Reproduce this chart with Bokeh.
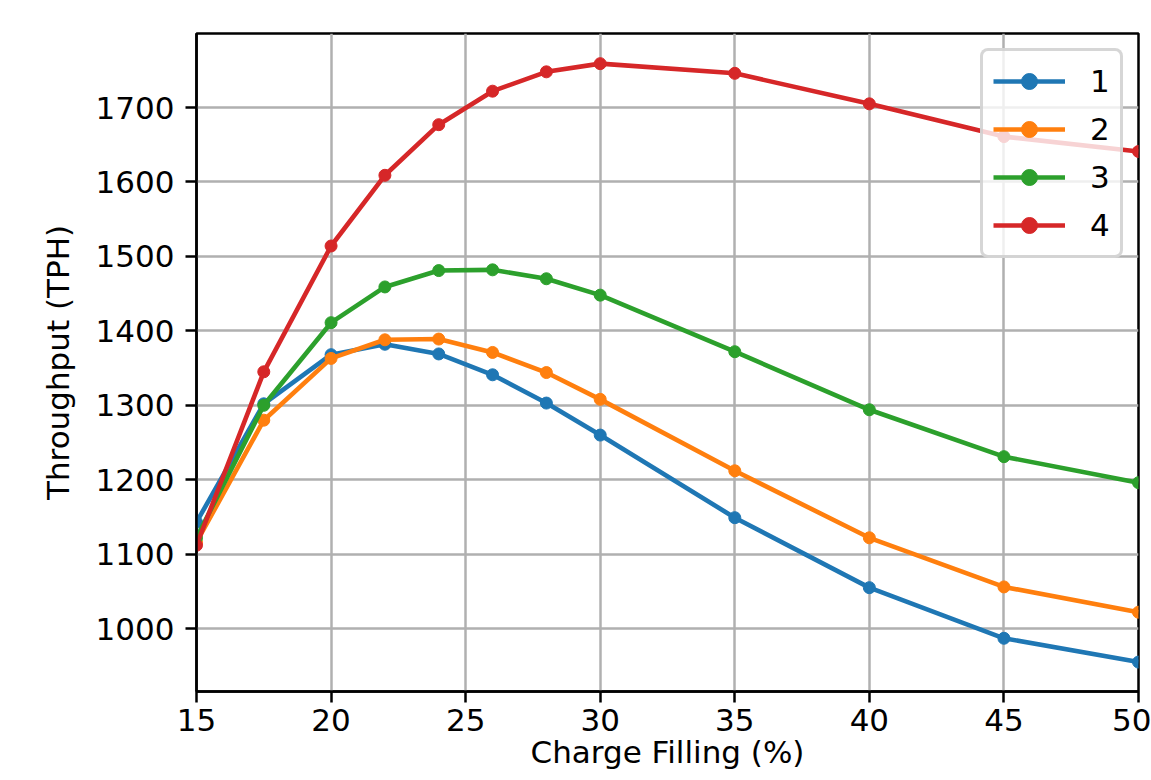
from bokeh.plotting import figure
from bokeh.models import Range1d, FixedTicker
from bokeh.embed import file_html
from bokeh.resources import INLINE

# ---- data ----
charge_filling = [15, 17.5, 20, 22, 24, 26, 28, 30, 35, 40, 45, 50]
series_names = ["1", "2", "3", "4"]
tph_1 = [1143, 1302, 1368, 1382, 1369, 1341, 1303, 1260, 1149, 1055, 987, 955]
tph_2 = [1116, 1280, 1363, 1388, 1389, 1371, 1344, 1308, 1212, 1122, 1056, 1022]
tph_3 = [1122, 1300, 1411, 1459, 1481, 1482, 1470, 1448, 1372, 1294, 1231, 1196]
tph_4 = [1112, 1345, 1514, 1609, 1677, 1722, 1748, 1759, 1746, 1705, 1661, 1641]
x_ticks = [15, 20, 25, 30, 35, 40, 45, 50]
y_ticks = [1000, 1100, 1200, 1300, 1400, 1500, 1600, 1700]
x_label = "Charge Filling (%)"
y_label = "Throughput (TPH)"

colors = ["#1f77b4", "#ff7f0e", "#2ca02c", "#d62728"]
FONT = "DejaVu Sans"
FS = "31px"

p = figure(width=1151, height=780, output_backend="svg", toolbar_location=None,
           x_range=Range1d(15, 50), y_range=Range1d(915.5, 1799.5),
           min_border_left=196, min_border_right=13, min_border_top=33,
           min_border_bottom=89)
p.title.visible = False
p.background_fill_color = "white"
p.border_fill_color = "white"
p.outline_line_color = "black"
p.outline_line_width = 2.5

for ys, name, c in zip([tph_1, tph_2, tph_3, tph_4], series_names, colors):
    p.line(charge_filling, ys, line_color=c, line_width=4.6, line_join="round",
           legend_label=name)
    p.scatter(charge_filling, ys, size=12, fill_color=c, line_color=c,
              legend_label=name)

for ax in (p.xaxis[0], p.yaxis[0]):
    ax.axis_line_color = "black"
    ax.axis_line_width = 2.5
    ax.major_tick_line_color = "black"
    ax.major_tick_line_width = 2.5
    ax.major_tick_out = 11
    ax.major_tick_in = 0
    ax.minor_tick_out = 0
    ax.minor_tick_in = 0
    ax.major_label_text_font = FONT
    ax.major_label_text_font_size = FS
    ax.major_label_text_color = "black"
    ax.axis_label_text_font = FONT
    ax.axis_label_text_font_size = FS
    ax.axis_label_text_font_style = "normal"
    ax.axis_label_text_color = "black"

p.xaxis.ticker = FixedTicker(ticks=x_ticks)
p.yaxis.ticker = FixedTicker(ticks=y_ticks)
p.xaxis.major_label_standoff = 6
p.yaxis.major_label_standoff = 11
p.xaxis.axis_label = x_label
p.xaxis.axis_label_standoff = 0
p.yaxis.axis_label = y_label
p.yaxis.axis_label_standoff = 17

for g in (p.xgrid[0], p.ygrid[0]):
    g.grid_line_color = "#b0b0b0"
    g.grid_line_width = 2.5
p.xgrid.ticker = FixedTicker(ticks=x_ticks)
p.ygrid.ticker = FixedTicker(ticks=y_ticks)

lg = p.legend[0]
lg.location = "top_right"
lg.margin = 15
lg.padding = 10
lg.spacing = 8
lg.glyph_width = 72
lg.glyph_height = 40
lg.label_height = 40
lg.label_standoff = 25
lg.label_text_font = FONT
lg.label_text_font_size = FS
lg.label_text_color = "black"
lg.border_line_color = "#cccccc"
lg.border_line_width = 3
lg.border_line_alpha = 0.8
lg.background_fill_color = "white"
lg.background_fill_alpha = 0.8
try:
    lg.border_radius = 8
except AttributeError:
    pass

open("out.html", "w").write(file_html(p, INLINE))
